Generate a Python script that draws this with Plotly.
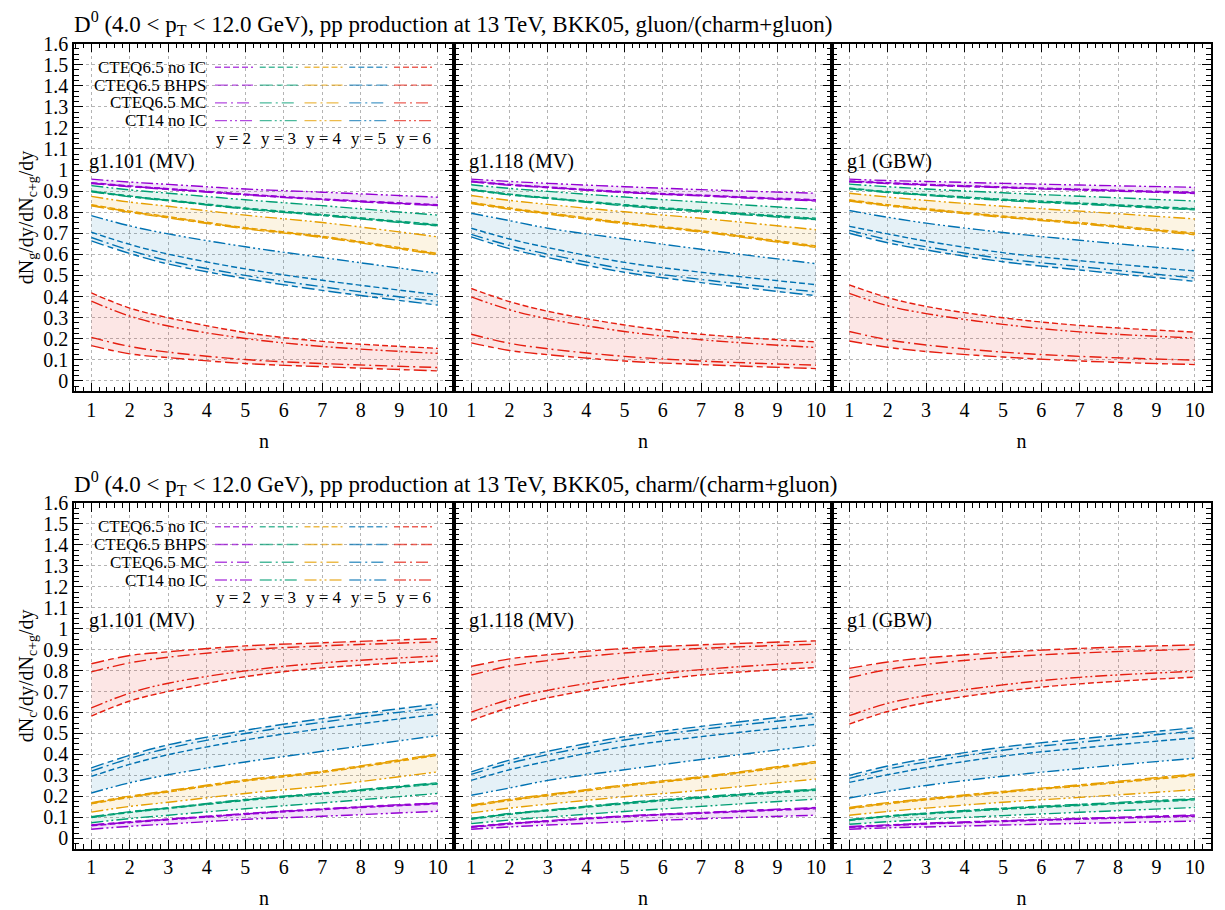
import plotly.graph_objects as go

# ---------------- data ----------------
N = [1, 2, 3, 5, 7, 10]
Y_LABELS = ["y = 2", "y = 3", "y = 4", "y = 5", "y = 6"]
PDF_NAMES = ["CTEQ6.5 no IC", "CTEQ6.5 BHPS", "CTEQ6.5 MC", "CT14 no IC"]
PANEL_LABELS = ["g1.101 (MV)", "g1.118 (MV)", "g1 (GBW)"]
ROW_TITLES = [
    "D<sup>0</sup> (4.0 &lt; p<sub>T</sub> &lt; 12.0 GeV), pp production at 13 TeV, BKK05, gluon/(charm+gluon)",
    "D<sup>0</sup> (4.0 &lt; p<sub>T</sub> &lt; 12.0 GeV), pp production at 13 TeV, BKK05, charm/(charm+gluon)",
]
Y_TITLES = ["dN<sub>g</sub>/dy/dN<sub>c+g</sub>/dy", "dN<sub>c</sub>/dy/dN<sub>c+g</sub>/dy"]

# gluon/(charm+gluon); rows are y = 2..6, columns are n = 1,2,3,5,7,10
gluon_g1101_noIC = [[0.940, 0.925, 0.912, 0.886, 0.863, 0.836],
                    [0.901, 0.877, 0.858, 0.820, 0.789, 0.741],
                    [0.836, 0.805, 0.779, 0.727, 0.686, 0.604],
                    [0.705, 0.647, 0.601, 0.531, 0.477, 0.408],
                    [0.417, 0.345, 0.299, 0.229, 0.187, 0.154]]
gluon_g1101_BHPS = [[0.936, 0.921, 0.908, 0.882, 0.859, 0.831],
                    [0.897, 0.873, 0.854, 0.815, 0.784, 0.735],
                    [0.830, 0.799, 0.773, 0.721, 0.680, 0.597],
                    [0.664, 0.604, 0.554, 0.485, 0.429, 0.359],
                    [0.167, 0.128, 0.110, 0.082, 0.067, 0.047]]
gluon_g1101_MC = [[0.938, 0.923, 0.910, 0.884, 0.861, 0.833],
                  [0.899, 0.875, 0.856, 0.817, 0.786, 0.738],
                  [0.833, 0.802, 0.776, 0.724, 0.683, 0.600],
                  [0.680, 0.619, 0.570, 0.500, 0.446, 0.376],
                  [0.206, 0.163, 0.136, 0.101, 0.082, 0.063]]
gluon_g1101_CT14 = [[0.957, 0.943, 0.932, 0.910, 0.895, 0.871],
                    [0.926, 0.906, 0.890, 0.859, 0.831, 0.786],
                    [0.875, 0.848, 0.828, 0.786, 0.751, 0.683],
                    [0.784, 0.735, 0.697, 0.636, 0.585, 0.510],
                    [0.378, 0.307, 0.260, 0.201, 0.163, 0.130]]

gluon_g1118_noIC = [[0.948, 0.932, 0.920, 0.897, 0.881, 0.859],
                    [0.909, 0.886, 0.869, 0.836, 0.808, 0.771],
                    [0.847, 0.820, 0.797, 0.751, 0.712, 0.640],
                    [0.724, 0.673, 0.632, 0.562, 0.515, 0.456],
                    [0.438, 0.376, 0.330, 0.265, 0.221, 0.185]]
gluon_g1118_BHPS = [[0.944, 0.928, 0.916, 0.893, 0.877, 0.853],
                    [0.905, 0.882, 0.865, 0.830, 0.802, 0.765],
                    [0.841, 0.814, 0.791, 0.745, 0.706, 0.633],
                    [0.683, 0.627, 0.585, 0.515, 0.466, 0.404],
                    [0.180, 0.144, 0.124, 0.094, 0.077, 0.058]]
gluon_g1118_MC = [[0.946, 0.930, 0.918, 0.895, 0.879, 0.856],
                  [0.907, 0.884, 0.867, 0.833, 0.805, 0.768],
                  [0.844, 0.817, 0.794, 0.748, 0.709, 0.636],
                  [0.695, 0.642, 0.601, 0.531, 0.481, 0.422],
                  [0.221, 0.178, 0.152, 0.116, 0.094, 0.074]]
gluon_g1118_CT14 = [[0.957, 0.946, 0.937, 0.921, 0.907, 0.890],
                    [0.930, 0.913, 0.899, 0.872, 0.848, 0.813],
                    [0.879, 0.856, 0.837, 0.802, 0.771, 0.717],
                    [0.795, 0.760, 0.724, 0.673, 0.624, 0.556],
                    [0.398, 0.337, 0.294, 0.234, 0.195, 0.158]]

gluon_gbw_noIC = [[0.948, 0.940, 0.932, 0.920, 0.909, 0.895],
                  [0.915, 0.897, 0.884, 0.862, 0.844, 0.817],
                  [0.859, 0.836, 0.817, 0.782, 0.751, 0.701],
                  [0.733, 0.697, 0.663, 0.608, 0.570, 0.521],
                  [0.455, 0.395, 0.353, 0.299, 0.263, 0.231]]
gluon_gbw_BHPS = [[0.944, 0.936, 0.928, 0.916, 0.905, 0.889],
                  [0.911, 0.893, 0.880, 0.856, 0.838, 0.811],
                  [0.853, 0.830, 0.811, 0.776, 0.745, 0.693],
                  [0.700, 0.655, 0.621, 0.565, 0.526, 0.472],
                  [0.189, 0.159, 0.139, 0.113, 0.094, 0.077]]
gluon_gbw_MC = [[0.946, 0.938, 0.930, 0.918, 0.907, 0.892],
                [0.913, 0.895, 0.882, 0.859, 0.841, 0.814],
                [0.856, 0.833, 0.814, 0.779, 0.748, 0.697],
                [0.714, 0.670, 0.636, 0.580, 0.542, 0.488],
                [0.234, 0.195, 0.170, 0.136, 0.116, 0.098]]
gluon_gbw_CT14 = [[0.957, 0.950, 0.946, 0.937, 0.929, 0.918],
                  [0.933, 0.921, 0.910, 0.892, 0.876, 0.853],
                  [0.890, 0.872, 0.856, 0.828, 0.805, 0.768],
                  [0.808, 0.776, 0.748, 0.704, 0.667, 0.618],
                  [0.415, 0.356, 0.319, 0.268, 0.232, 0.203]]

# charm/(charm+gluon)
charm_g1101_noIC = [[0.060, 0.075, 0.088, 0.114, 0.137, 0.164],
                    [0.099, 0.123, 0.142, 0.180, 0.211, 0.259],
                    [0.164, 0.195, 0.221, 0.273, 0.314, 0.396],
                    [0.295, 0.353, 0.399, 0.469, 0.523, 0.592],
                    [0.583, 0.655, 0.701, 0.771, 0.813, 0.846]]
charm_g1101_BHPS = [[0.064, 0.079, 0.092, 0.118, 0.141, 0.169],
                    [0.103, 0.127, 0.146, 0.185, 0.216, 0.265],
                    [0.170, 0.201, 0.227, 0.279, 0.320, 0.403],
                    [0.336, 0.396, 0.446, 0.515, 0.571, 0.641],
                    [0.833, 0.872, 0.890, 0.918, 0.933, 0.953]]
charm_g1101_MC = [[0.062, 0.077, 0.090, 0.116, 0.139, 0.167],
                  [0.101, 0.125, 0.144, 0.183, 0.214, 0.262],
                  [0.167, 0.198, 0.224, 0.276, 0.317, 0.400],
                  [0.320, 0.381, 0.430, 0.500, 0.554, 0.624],
                  [0.794, 0.837, 0.864, 0.899, 0.918, 0.937]]
charm_g1101_CT14 = [[0.043, 0.057, 0.068, 0.090, 0.105, 0.129],
                    [0.074, 0.094, 0.110, 0.141, 0.169, 0.214],
                    [0.125, 0.152, 0.172, 0.214, 0.249, 0.317],
                    [0.216, 0.265, 0.303, 0.364, 0.415, 0.490],
                    [0.622, 0.693, 0.740, 0.799, 0.837, 0.870]]

charm_g1118_noIC = [[0.052, 0.068, 0.080, 0.103, 0.119, 0.141],
                    [0.091, 0.114, 0.131, 0.164, 0.192, 0.229],
                    [0.153, 0.180, 0.203, 0.249, 0.288, 0.360],
                    [0.276, 0.327, 0.368, 0.438, 0.485, 0.544],
                    [0.562, 0.624, 0.670, 0.735, 0.779, 0.815]]
charm_g1118_BHPS = [[0.056, 0.072, 0.084, 0.107, 0.123, 0.147],
                    [0.095, 0.118, 0.135, 0.170, 0.198, 0.235],
                    [0.159, 0.186, 0.209, 0.255, 0.294, 0.367],
                    [0.317, 0.373, 0.415, 0.485, 0.534, 0.596],
                    [0.820, 0.856, 0.876, 0.906, 0.923, 0.942]]
charm_g1118_MC = [[0.054, 0.070, 0.082, 0.105, 0.121, 0.144],
                  [0.093, 0.116, 0.133, 0.167, 0.195, 0.232],
                  [0.156, 0.183, 0.206, 0.252, 0.291, 0.364],
                  [0.305, 0.358, 0.399, 0.469, 0.519, 0.578],
                  [0.779, 0.822, 0.848, 0.884, 0.906, 0.926]]
charm_g1118_CT14 = [[0.043, 0.054, 0.063, 0.079, 0.093, 0.110],
                    [0.070, 0.087, 0.101, 0.128, 0.152, 0.187],
                    [0.121, 0.144, 0.163, 0.198, 0.229, 0.283],
                    [0.205, 0.240, 0.276, 0.327, 0.376, 0.444],
                    [0.602, 0.663, 0.706, 0.766, 0.805, 0.842]]

charm_gbw_noIC = [[0.052, 0.060, 0.068, 0.080, 0.091, 0.105],
                  [0.085, 0.103, 0.116, 0.138, 0.156, 0.183],
                  [0.141, 0.164, 0.183, 0.218, 0.249, 0.299],
                  [0.267, 0.303, 0.337, 0.392, 0.430, 0.479],
                  [0.545, 0.605, 0.647, 0.701, 0.737, 0.769]]
charm_gbw_BHPS = [[0.056, 0.064, 0.072, 0.084, 0.095, 0.111],
                  [0.089, 0.107, 0.120, 0.144, 0.162, 0.189],
                  [0.147, 0.170, 0.189, 0.224, 0.255, 0.307],
                  [0.300, 0.345, 0.379, 0.435, 0.474, 0.528],
                  [0.811, 0.841, 0.861, 0.887, 0.906, 0.923]]
charm_gbw_MC = [[0.054, 0.062, 0.070, 0.082, 0.093, 0.108],
                [0.087, 0.105, 0.118, 0.141, 0.159, 0.186],
                [0.144, 0.167, 0.186, 0.221, 0.252, 0.303],
                [0.286, 0.330, 0.364, 0.420, 0.458, 0.512],
                [0.766, 0.805, 0.830, 0.864, 0.884, 0.902]]
charm_gbw_CT14 = [[0.043, 0.050, 0.054, 0.063, 0.071, 0.082],
                  [0.067, 0.079, 0.090, 0.108, 0.124, 0.147],
                  [0.110, 0.128, 0.144, 0.172, 0.195, 0.232],
                  [0.192, 0.224, 0.252, 0.296, 0.333, 0.382],
                  [0.585, 0.644, 0.681, 0.732, 0.768, 0.797]]

ROWS = [
    [(gluon_g1101_noIC, gluon_g1101_BHPS, gluon_g1101_MC, gluon_g1101_CT14),
     (gluon_g1118_noIC, gluon_g1118_BHPS, gluon_g1118_MC, gluon_g1118_CT14),
     (gluon_gbw_noIC, gluon_gbw_BHPS, gluon_gbw_MC, gluon_gbw_CT14)],
    [(charm_g1101_noIC, charm_g1101_BHPS, charm_g1101_MC, charm_g1101_CT14),
     (charm_g1118_noIC, charm_g1118_BHPS, charm_g1118_MC, charm_g1118_CT14),
     (charm_gbw_noIC, charm_gbw_BHPS, charm_gbw_MC, charm_gbw_CT14)],
]

# ---------------- styles ----------------
COLORS = ["#9400D3", "#009E73", "#E69F00", "#0072B2", "#E51E10"]
FILLS = ["rgba(148,0,211,0.11)", "rgba(0,158,115,0.10)", "rgba(230,159,0,0.11)",
         "rgba(0,114,178,0.10)", "rgba(229,30,16,0.11)"]
DASHES = ["6px,3px", "13px,4px,6px,4px", "12px,4px,2px,4px", "12px,3px,2px,3px,2px,3px"]
FONT = "Liberation Serif"

W, H = 1225, 910
PANEL_X = [74, 454, 832, 1211]
ROW_Y = [(33, 385), (498, 848)]


def px(x):
    return x / W


def py(y):
    return 1 - y / H


fig = go.Figure()
layout = dict(
    width=W, height=H, margin=dict(l=0, r=0, t=0, b=0),
    plot_bgcolor="white", paper_bgcolor="white",
    font=dict(family=FONT, size=20, color="black"),
    showlegend=False,
)
annotations = []
shapes = []

for r in range(2):
    for c in range(3):
        k = r * 3 + c + 1
        xa = "x" if k == 1 else f"x{k}"
        ya = "y" if k == 1 else f"y{k}"
        xkey = "xaxis" if k == 1 else f"xaxis{k}"
        ykey = "yaxis" if k == 1 else f"yaxis{k}"
        top, bot = ROW_Y[r]
        layout[xkey] = dict(
            domain=[px(PANEL_X[c]), px(PANEL_X[c + 1])], anchor=ya,
            range=[0.55, 10.42], tick0=0, dtick=1, ticks="inside", ticklen=9,
            tickcolor="black", mirror="allticks", showline=True, linecolor="black",
            linewidth=1.5, showgrid=True, gridcolor="#b4b4b4", griddash="dot",
            gridwidth=1, zeroline=False,
            minor=dict(tick0=0, dtick=0.2, ticks="inside", ticklen=5, tickcolor="black", showgrid=False),
            title=dict(text="n", font=dict(size=20), standoff=14),
            tickfont=dict(size=20),
        )
        layout[ykey] = dict(
            domain=[py(bot), py(top)], anchor=xa,
            range=[-0.05, 1.6], tick0=0, dtick=0.1, ticks="inside", ticklen=9,
            tickcolor="black", mirror="allticks", showline=True, linecolor="black",
            linewidth=1.5, showgrid=True, gridcolor="#b4b4b4", griddash="dot",
            gridwidth=1, zeroline=False, showticklabels=(c == 0),
            minor=dict(tick0=0, dtick=0.025, ticks="inside", ticklen=5, tickcolor="black", showgrid=False),
            tickfont=dict(size=20),
            title=dict(text=Y_TITLES[r] if c == 0 else "", font=dict(size=20), standoff=4),
        )

        curves_set = ROWS[r][c]
        for i in range(5):
            curves = [curves_set[j][i] for j in range(4)]
            upper = [max(v) for v in zip(*curves)]
            lower = [min(v) for v in zip(*curves)]
            fig.add_trace(go.Scatter(x=N, y=lower, mode="lines", line=dict(width=0, shape="spline"),
                                     xaxis=xa, yaxis=ya, hoverinfo="skip"))
            fig.add_trace(go.Scatter(x=N, y=upper, mode="lines", line=dict(width=0, shape="spline"),
                                     fill="tonexty", fillcolor=FILLS[i], xaxis=xa, yaxis=ya,
                                     hoverinfo="skip"))
        for i in range(5):
            for j in range(4):
                fig.add_trace(go.Scatter(
                    x=N, y=curves_set[j][i], mode="lines", xaxis=xa, yaxis=ya,
                    line=dict(color=COLORS[i], width=1.4, dash=DASHES[j], shape="spline"),
                    name=f"{PDF_NAMES[j]} {Y_LABELS[i]}"))

        # panel label
        annotations.append(dict(text=PANEL_LABELS[c], xref="paper", yref="paper",
                                x=px(PANEL_X[c] + 13), y=py(top + 119), xanchor="left",
                                yanchor="middle", showarrow=False, font=dict(size=20)))

    # row title
    annotations.append(dict(text=ROW_TITLES[r], xref="paper", yref="paper",
                            x=px(72), y=py(ROW_Y[r][0] - 20), xanchor="left", yanchor="middle",
                            showarrow=False, font=dict(size=23)))

    # key in the first panel of the row
    top = ROW_Y[r][0]
    for j, name in enumerate(PDF_NAMES):
        yy = top + 24 + 18 * j
        annotations.append(dict(text=name, xref="paper", yref="paper", x=px(208), y=py(yy),
                                xanchor="right", yanchor="middle", showarrow=False,
                                font=dict(size=17)))
        for i in range(5):
            x0 = 215 + i * 44.75
            shapes.append(dict(type="line", xref="paper", yref="paper",
                               x0=px(x0), x1=px(x0 + 38), y0=py(yy), y1=py(yy),
                               line=dict(color=COLORS[i], width=1.4, dash=DASHES[j]),
                               opacity=0.7))
    for i, lab in enumerate(Y_LABELS):
        annotations.append(dict(text=lab, xref="paper", yref="paper",
                                x=px(234 + i * 44.75), y=py(top + 96), xanchor="center",
                                yanchor="middle", showarrow=False, font=dict(size=17)))

layout["annotations"] = annotations
layout["shapes"] = shapes
fig.update_layout(**layout)
fig.write_html("out.html", config={"displayModeBar": False},
               post_script="document.body.style.margin='0px';")
